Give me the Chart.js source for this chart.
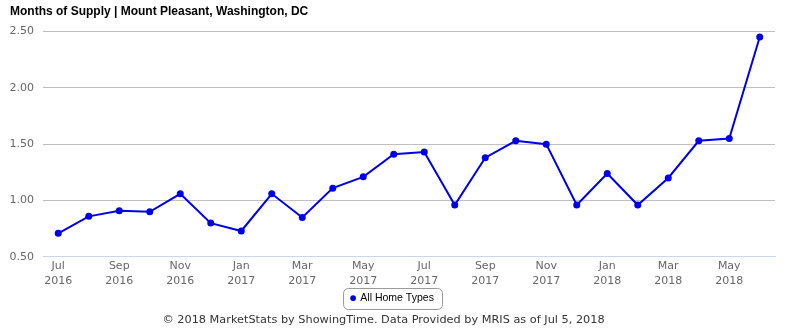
<!DOCTYPE html>
<html>
<head>
<meta charset="utf-8">
<script src="https://cdn.jsdelivr.net/npm/chart.js@4/dist/chart.umd.min.js"></script>
<style>
  body { margin: 0; background: #fff; }
  #wrap { width: 785px; height: 330px; }
</style>
</head>
<body>
<div id="wrap"><canvas id="supplyChart" width="785" height="330"></canvas></div>
<script>
// months shown on the x axis, year goes on the second line
const months = ['Jul','Aug','Sep','Oct','Nov','Dec','Jan','Feb','Mar','Apr','May','Jun',
                'Jul','Aug','Sep','Oct','Nov','Dec','Jan','Feb','Mar','Apr','May','Jun'];
const years = ['2016','2016','2016','2016','2016','2016','2017','2017','2017','2017','2017','2017',
               '2017','2017','2017','2017','2017','2017','2018','2018','2018','2018','2018','2018'];
const monthsOfSupply = [0.71, 0.86, 0.91, 0.90, 1.06, 0.80, 0.73, 1.06, 0.85, 1.11, 1.21, 1.41,
                        1.43, 0.96, 1.38, 1.53, 1.50, 0.96, 1.24, 0.96, 1.20, 1.53, 1.55, 2.45];
const yTicks = [0.5, 1.0, 1.5, 2.0, 2.5];

const lineColor = '#0000e6';

// rounded border round the legend item, like the original
const legendBorder = {
  id: 'legendBorder',
  afterDraw(chart) {
    const boxes = chart.legend && chart.legend.legendHitBoxes;
    if (!boxes || !boxes.length) return;
    const b = boxes[0];
    const ctx = chart.ctx;
    const x = b.left - 8, y = b.top - 5, w = b.width + 16, h = b.height + 10, r = 5;
    ctx.save();
    ctx.strokeStyle = '#999';
    ctx.lineWidth = 1;
    ctx.beginPath();
    ctx.roundRect(Math.round(x) + 0.5, Math.round(y) + 0.5, Math.round(w), Math.round(h), r);
    ctx.stroke();
    ctx.restore();
  }
};

// trailing spaces nudge the footer a little left of centre, as in the original
const footerText = '\u00a9 2018 MarketStats by ShowingTime. Data Provided by MRIS as of Jul 5, 2018' +
  '\u00a0\u00a0\u00a0\u00a0\u00a0';

const ctx = document.getElementById('supplyChart').getContext('2d');
const supplyChart = new Chart(ctx, {
  type: 'line',
  data: {
    labels: months.map((m, i) => [m, years[i]]),
    datasets: [{
      label: 'All Home Types',
      data: monthsOfSupply,
      borderColor: lineColor,
      backgroundColor: lineColor,
      borderWidth: 2,
      pointRadius: 3.5,
      pointBackgroundColor: lineColor,
      pointBorderWidth: 0,
      tension: 0
    }]
  },
  options: {
    responsive: false,
    animation: false,
    layout: { padding: { left: 10, right: 10, top: 0, bottom: 0 } },
    plugins: {
      title: {
        display: true,
        text: 'Months of Supply | Mount Pleasant, Washington, DC',
        align: 'start',
        color: '#000',
        font: { family: 'Liberation Sans', size: 12, weight: 'bold' },
        padding: { top: 4, bottom: 13 }
      },
      legend: {
        display: true,
        position: 'bottom',
        labels: {
          usePointStyle: true,
          pointStyle: 'circle',
          boxWidth: 4,
          boxHeight: 4,
          color: '#000',
          font: { family: 'Liberation Sans', size: 10.5, lineHeight: 1.05 },
          padding: 0
        }
      },
      subtitle: {
        display: true,
        position: 'bottom',
        text: footerText,
        color: '#333',
        font: { family: 'DejaVu Sans', size: 11.3 },
        padding: { top: 0, bottom: 3 }
      },
      tooltip: { enabled: false }
    },
    scales: {
      x: {
        offset: true,
        grid: { display: false, drawTicks: false },
        border: { display: true, color: '#ccd6eb' },
        afterFit: (axis) => { axis.height = 36; },
        ticks: {
          autoSkip: false,
          maxRotation: 0,
          color: '#666',
          font: { family: 'DejaVu Sans', size: 11, lineHeight: 1.35 },
          padding: 2,
          callback: function (value, index) {
            return index % 2 === 0 ? [months[index], years[index]] : '';
          }
        }
      },
      y: {
        min: yTicks[0],
        max: yTicks[yTicks.length - 1],
        afterBuildTicks: (axis) => { axis.ticks = yTicks.map(v => ({ value: v })); },
        afterFit: (axis) => { axis.width = 33; },
        grid: { color: '#c0c0c0', drawTicks: false },
        border: { display: false },
        ticks: {
          color: '#666',
          font: { family: 'DejaVu Sans', size: 11 },
          padding: 9,
          callback: (v) => Number(v).toFixed(2)
        }
      }
    }
  },
  plugins: [legendBorder]
});
</script>
</body>
</html>
